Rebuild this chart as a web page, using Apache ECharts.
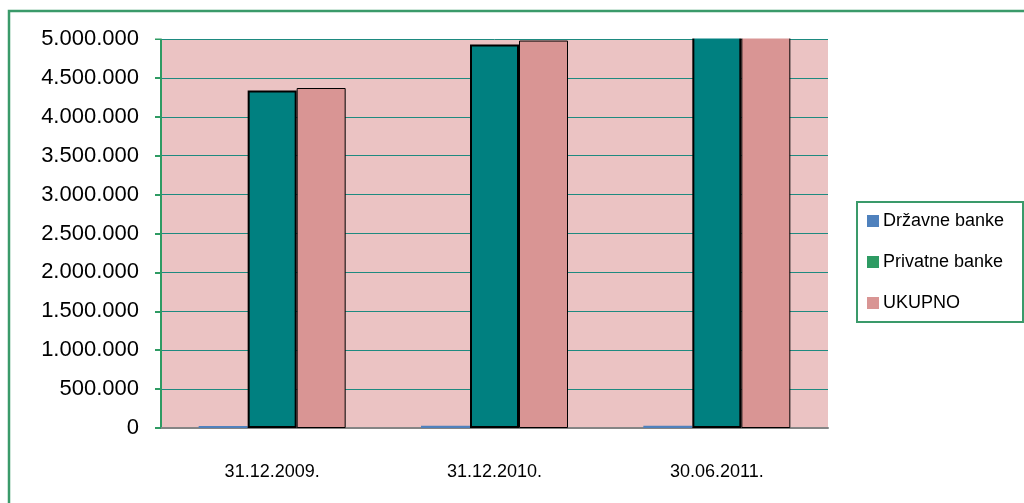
<!DOCTYPE html>
<html>
<head>
<meta charset="utf-8">
<script src="https://cdn.jsdelivr.net/npm/echarts@6/dist/echarts.min.js"></script>
<style>html,body{margin:0;padding:0;background:#fff;}#c{width:1024px;height:503px;}</style>
</head>
<body>
<div id="c"></div>
<script>
const categories = ['31.12.2009.', '31.12.2010.', '30.06.2011.'];
const drzavne = [25000, 30000, 30000];
const privatne = [4338000, 4930000, 5300000];
const ukupno = [4370000, 4980000, 5330000];
const seriesNames = ['Državne banke', 'Privatne banke', 'UKUPNO'];

const chart = echarts.init(document.getElementById('c'), null, {renderer: 'canvas'});
const fmt = v => String(v).replace(/\B(?=(\d{3})+(?!\d))/g, '.');
chart.setOption({
  animation: false,
  backgroundColor: '#fff',
  grid: {left: 161, right: 196, top: 39, bottom: 75, show: true, backgroundColor: '#EBC3C3', borderWidth: 0},
  graphic: [
    {type: 'rect', shape: {x: 150, y: 13, width: 700, height: 25.5}, style: {fill: '#fff'}, z: 90},
    {type: 'rect', shape: {x: 9, y: 11, width: 1030, height: 510}, style: {fill: 'none', stroke: '#3A9A6A', lineWidth: 2.5}, z: 100},
    {type: 'rect', shape: {x: 857, y: 202, width: 166, height: 120}, style: {fill: '#fff', stroke: '#3A9A6A', lineWidth: 2}, z: 0}
  ],
  legend: {
    orient: 'vertical', left: 867, top: 212, padding: 0,
    itemWidth: 12, itemHeight: 12, itemGap: 23,
    icon: 'rect',
    textStyle: {fontFamily: 'Liberation Sans', fontSize: 18, color: '#000', padding: [0, 0, 0, -1]},
    data: [
      {name: seriesNames[0], itemStyle: {color: '#4F81BD', borderWidth: 0}},
      {name: seriesNames[1], itemStyle: {color: '#2E9B63', borderWidth: 0}},
      {name: seriesNames[2], itemStyle: {color: '#D99594', borderWidth: 0}}
    ]
  },
  xAxis: {
    type: 'category', data: categories,
    axisLine: {lineStyle: {color: '#858585', width: 2}},
    axisTick: {length: 8, lineStyle: {color: '#858585', width: 1}},
    axisLabel: {margin: 35, fontFamily: 'Liberation Sans', fontSize: 18, color: '#000'}
  },
  yAxis: {
    type: 'value', min: 0, max: 5000000, interval: 500000,
    axisLine: {show: true, lineStyle: {color: '#2E9B63', width: 2}},
    axisTick: {show: true, length: 6, lineStyle: {color: '#2E9B63', width: 2}},
    axisLabel: {margin: 22, fontFamily: 'Liberation Sans', fontSize: 22, color: '#000', formatter: fmt},
    splitLine: {lineStyle: {color: '#1E8A80', width: 1}}
  },
  series: [
    {name: seriesNames[0], type: 'bar', data: drzavne, barWidth: 49, barGap: '0%', clip: false,
      itemStyle: {color: '#4F81BD'}},
    {name: seriesNames[1], type: 'bar', data: privatne, barWidth: 49, clip: false,
      itemStyle: {color: '#008080', borderColor: '#000', borderWidth: 2}},
    {name: seriesNames[2], type: 'bar', data: ukupno, barWidth: 49, clip: false,
      itemStyle: {color: '#D99594', borderColor: '#000', borderWidth: 1}}
  ]
});
</script>
</body>
</html>
